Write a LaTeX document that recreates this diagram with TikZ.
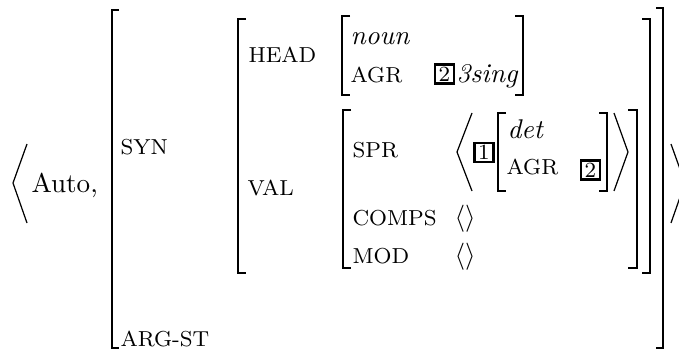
\documentclass[tikz,border=0pt]{standalone}
\usepackage{amsmath}
\tikzset{
  brk/.style={line width=0.45pt},
  feat/.style={anchor=base west, inner sep=0pt, font=\footnotesize},
  val/.style={anchor=base west, inner sep=0pt},
  tagbox/.style={draw, line width=0.8pt, inner sep=0pt, minimum width=7pt, minimum height=7pt, font=\footnotesize},
}
\begin{document}
\begin{tikzpicture}[x=0.369pt,y=0.369pt,yscale=-1,xscale=1]
\useasboundingbox (0,0) rectangle (679,358);

%Shape: Angle outer left
\draw [brk] (27,144) -- (13,183) -- (27,223) ;
%Shape: Angle outer right
\draw [brk] (671,144) -- (685,183) -- (671,223) ;
%Shape: Bracket outer
\draw [brk] (119,10) -- (112,10) -- (112,348) -- (119,348) ;
\draw [brk] (656,8) -- (663,8) -- (663,348) -- (656,348) ;
%Shape: Bracket syn
\draw [brk] (246,19) -- (238,19) -- (238,273) -- (246,273) ;
\draw [brk] (642,19) -- (650,19) -- (650,273) -- (642,273) ;
%Shape: Bracket head
\draw [brk] (350,16) -- (342,16) -- (342,95) -- (350,95) ;
\draw [brk] (515,16) -- (523,16) -- (523,95) -- (515,95) ;
%Shape: Bracket val
\draw [brk] (351,110) -- (343,110) -- (343,268) -- (351,268) ;
\draw [brk] (628,110) -- (637,110) -- (637,268) -- (628,268) ;
%Shape: Angle spr
\draw [brk] (472,113) -- (457,152) -- (472,191) ;
\draw [brk] (614,113) -- (628,152) -- (614,191) ;
%Shape: Bracket spr
\draw [brk] (506,113) -- (498,113) -- (498,191) -- (506,191) ;
\draw [brk] (599,113) -- (607,113) -- (607,191) -- (599,191) ;

% Text Node
\draw (31,192) node [val] (auto) {Auto,};
% Text Node
\draw (120,154) node [feat] (syn) {SYN};
% Text Node
\draw (120,347) node [feat] (argst) {ARG-ST};
% Text Node
\draw (248,62) node [feat] (head) {HEAD};
% Text Node
\draw (350,45) node [val] (noun) {\textit{noun}};
% Text Node
\draw (350,82) node [feat] (agrhead) {AGR};
% Text Node
\draw (444.5,74) node [tagbox] (tagtwo) {2};
% Text Node
\draw (456,82) node [val] (sing) {\textit{3sing}};
% Text Node
\draw (247,196) node [feat] (val) {VAL};
% Text Node
\draw (352,158) node [feat] (spr) {SPR};
% Text Node
\draw (352,226) node [feat] (comps) {COMPS};
% Text Node
\draw (454,226) node [val] (compsval) {$\langle\rangle$};
% Text Node
\draw (352,264) node [feat] (mod) {MOD};
% Text Node
\draw (454,264) node [val] (modval) {$\langle\rangle$};
% Text Node
\draw (484,152.5) node [tagbox] (tagone) {1};
% Text Node
\draw (507,138) node [val] (det) {\textit{det}};
% Text Node
\draw (506,175) node [feat] (agrspr) {AGR};
% Text Node
\draw (590.5,170) node [tagbox] (tagtwob) {2};

\end{tikzpicture}
\end{document}
